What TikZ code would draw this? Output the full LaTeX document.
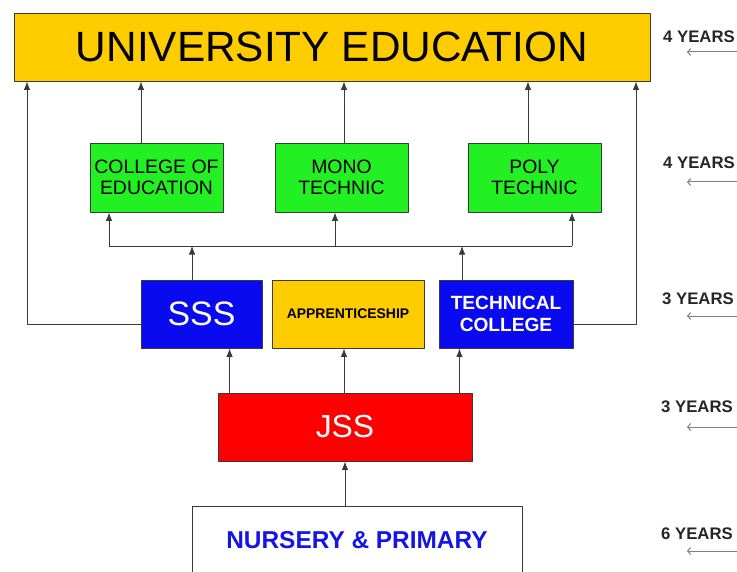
\documentclass[tikz,border=0pt]{standalone}
\usepackage{fontspec}
\setmainfont{Liberation Sans}
\usepackage{tikz}
\usetikzlibrary{arrows,arrows.meta,shapes}

\definecolor{uniyellow}{HTML}{FFCC00}
\definecolor{colgreen}{HTML}{22F022}
\definecolor{sssblue}{HTML}{0A0AF0}
\definecolor{jssred}{HTML}{FF0000}
\definecolor{nurblue}{HTML}{1414E6}
\definecolor{edgegray}{HTML}{3A3A3A}

\tikzset{
  box/.style={draw=edgegray,line width=0.9bp,rectangle,inner sep=0pt,align=center},
  arr/.style={-{Latex[length=8.5bp,width=6.5bp]},draw=edgegray,line width=0.9bp},
  yarr/.style={-{Straight Barb[length=3bp,width=7bp]},draw=gray,line width=1bp},
  yrs/.style={font=\fontsize{16.8}{18}\selectfont\bfseries,text=black!85}
}

\begin{document}
\begin{tikzpicture}[x=1bp,y=-1bp,line join=bevel]
\clip (0,0) rectangle (737,572);
\fill[white] (0,0) rectangle (737,572);
%%
\node (univ) at (332,47) [box,fill=uniyellow,minimum width=636bp,minimum height=68bp,font=\fontsize{42.5}{44}\selectfont] {UNIVERSITY EDUCATION};
  \node (coe) at (156.5,177.5) [box,fill=colgreen,minimum width=133bp,minimum height=69bp,font=\fontsize{19.5}{21}\selectfont] {COLLEGE OF\\EDUCATION};
  \node (mono) at (341.5,177.5) [box,fill=colgreen,minimum width=133bp,minimum height=69bp,font=\fontsize{19.5}{21}\selectfont] {MONO\\TECHNIC};
  \node (poly) at (534.5,177.5) [box,fill=colgreen,minimum width=133bp,minimum height=69bp,font=\fontsize{19.5}{21}\selectfont] {POLY\\TECHNIC};
  \node (sss) at (201.5,314) [box,fill=sssblue,minimum width=121bp,minimum height=68bp,text=white,font=\fontsize{34}{36}\selectfont] {SSS};
  \node (app) at (348,314) [box,fill=uniyellow,minimum width=152bp,minimum height=68bp,font=\fontsize{14}{16}\selectfont\bfseries] {APPRENTICESHIP};
  \node (tech) at (506,314) [box,fill=sssblue,minimum width=134bp,minimum height=68bp,text=white,font=\fontsize{19.2}{21.5}\selectfont\bfseries] {TECHNICAL\\COLLEGE};
  \node (jss) at (345,427) [box,fill=jssred,minimum width=254bp,minimum height=68bp,text=white,font=\fontsize{32}{34}\selectfont] {JSS};
  \node (nur) at (357,540) [box,fill=white,minimum width=330bp,minimum height=68bp,text=nurblue,font=\fontsize{24.5}{26}\selectfont\bfseries] {NURSERY \& PRIMARY};
%
  \coordinate (busL) at (109,246);
  \coordinate (busR) at (572,246);
  \coordinate (lft) at (27,324);
  \coordinate (rgt) at (636,324);
  \draw [arr] (nur.north -| jss.south) -- (jss.south);
  \draw [arr] ([xshift=12bp]jss.north west) -- ([xshift=12bp]jss.north west |- sss.south);
  \draw [arr] ([xshift=-1bp]jss.north) -- ([xshift=-1bp]jss.north |- app.south);
  \draw [arr] ([xshift=-13bp]jss.north east) -- ([xshift=-13bp]jss.north east |- tech.south);
  \draw [edgegray,line width=0.9bp] (busL) -- (busR);
  \draw [arr] ([xshift=-9.5bp]sss.north) -- ([xshift=-9.5bp]sss.north |- busL);
  \draw [arr] ([xshift=-44bp]tech.north) -- ([xshift=-44bp]tech.north |- busL);
  \draw [arr] (busL) -- (busL |- coe.south);
  \draw [arr] ([xshift=-6.5bp]mono.south |- busL) -- ([xshift=-6.5bp]mono.south);
  \draw [arr] (busR) -- (busR |- poly.south);
  \draw [arr] ([xshift=-15.5bp]coe.north) -- ([xshift=-15.5bp]coe.north |- univ.south);
  \draw [arr] ([xshift=2.5bp]mono.north) -- ([xshift=2.5bp]mono.north |- univ.south);
  \draw [arr] ([xshift=-6.5bp]poly.north) -- ([xshift=-6.5bp]poly.north |- univ.south);
  \draw [arr] (sss.west |- lft) -- (lft) -- (lft |- univ.south);
  \draw [arr] (tech.east |- rgt) -- (rgt) -- (rgt |- univ.south);
%
  \node (y1) at (699,37) [yrs] {4 YEARS};
  \node (y2) at (699,163) [yrs] {4 YEARS};
  \node (y3) at (698,299) [yrs] {3 YEARS};
  \node (y4) at (697,407) [yrs] {3 YEARS};
  \node (y5) at (697,534) [yrs] {6 YEARS};
  \coordinate (e1) at (737,52);
  \coordinate (e2) at (737,182);
  \coordinate (e3) at (737,316);
  \coordinate (e4) at (737,427);
  \coordinate (e5) at (737,551);
  \draw [yarr] (e1) -- (e1 -| 687,0);
  \draw [yarr] (e2) -- (e2 -| 687,0);
  \draw [yarr] (e3) -- (e3 -| 687,0);
  \draw [yarr] (e4) -- (e4 -| 687,0);
  \draw [yarr] (e5) -- (e5 -| 687,0);
%
\end{tikzpicture}
\end{document}
